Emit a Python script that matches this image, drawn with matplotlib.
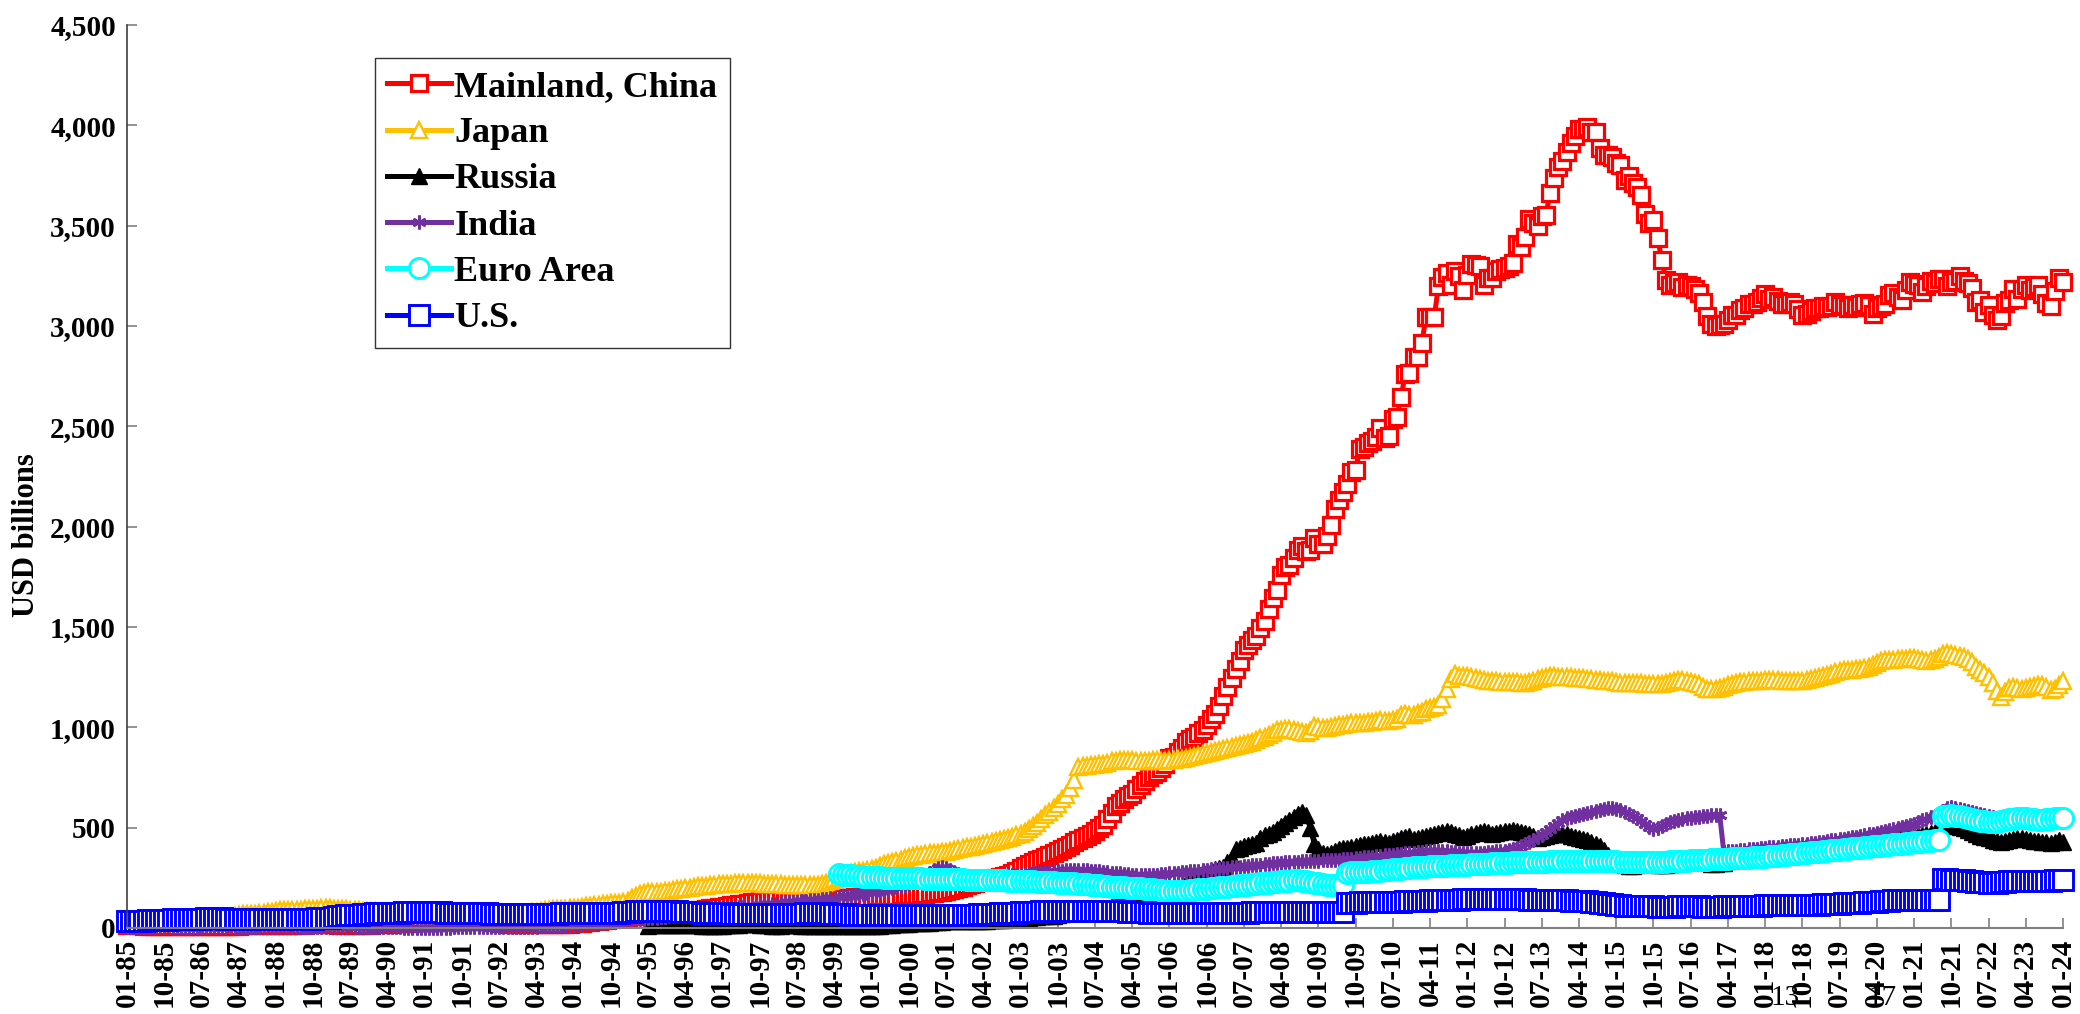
import numpy as np
import matplotlib
matplotlib.use("Agg")
import matplotlib.pyplot as plt
from matplotlib.ticker import FuncFormatter

plt.rcParams["font.family"] = ["Liberation Serif", "DejaVu Serif"]
plt.rcParams["font.weight"] = "bold"

# months counted from 01-85 (index 0) to 01-24 (index 468)
tick_labels = ["01-85", "10-85", "07-86", "04-87", "01-88", "10-88", "07-89", "04-90", "01-91",
               "10-91", "07-92", "04-93", "01-94", "10-94", "07-95", "04-96", "01-97", "10-97",
               "07-98", "04-99", "01-00", "10-00", "07-01", "04-02", "01-03", "10-03", "07-04",
               "04-05", "01-06", "10-06", "07-07", "04-08", "01-09", "10-09", "07-10", "04-11",
               "01-12", "10-12", "07-13", "04-14", "01-15", "10-15", "07-16", "04-17", "01-18",
               "10-18", "07-19", "04-20", "01-21", "10-21", "07-22", "04-23", "01-24"]

# USD billions, one row per year
china = [
    [16, 15, 14, 13, 12, 12, 11, 11, 11, 11, 12, 12],
    [12, 11, 11, 11, 10, 10, 10, 10, 10, 10, 10, 10],
    [11, 11, 12, 12, 13, 13, 14, 14, 14, 15, 15, 15],
    [16, 16, 16, 17, 17, 17, 17, 17, 18, 18, 18, 18],
    [18, 18, 18, 17, 17, 17, 17, 17, 17, 17, 17, 17],
    [18, 19, 20, 21, 22, 23, 24, 25, 26, 27, 28, 29],
    [30, 31, 32, 33, 34, 35, 37, 38, 39, 40, 41, 43],
    [42, 40, 38, 35, 32, 29, 26, 24, 22, 21, 20, 19],
    [19, 19, 19, 20, 20, 20, 20, 20, 20, 21, 21, 21],
    [23, 25, 27, 29, 31, 33, 35, 38, 41, 44, 48, 52],
    [54, 56, 58, 60, 62, 64, 66, 68, 70, 72, 73, 74],
    [76, 78, 80, 82, 84, 86, 88, 92, 96, 99, 102, 105],
    [107, 110, 113, 116, 119, 122, 125, 128, 131, 134, 137, 140],
    [140, 140, 141, 141, 141, 142, 142, 142, 143, 143, 144, 145],
    [146, 147, 147, 148, 149, 150, 151, 151, 152, 153, 154, 155],
    [156, 157, 158, 159, 160, 160, 161, 162, 163, 164, 165, 166],
    [168, 170, 172, 175, 178, 180, 185, 190, 195, 200, 205, 212],
    [220, 225, 230, 235, 240, 245, 250, 255, 260, 266, 275, 286],
    [300, 310, 320, 330, 340, 346, 356, 365, 374, 384, 394, 403],
    [416, 430, 440, 450, 460, 470, 483, 496, 514, 542, 573, 610],
    [623, 642, 659, 670, 691, 711, 733, 753, 769, 779, 795, 819],
    [845, 854, 875, 895, 925, 941, 954, 972, 988, 1010, 1040, 1066],
    [1105, 1158, 1202, 1246, 1293, 1333, 1385, 1409, 1434, 1455, 1497, 1528],
    [1590, 1647, 1682, 1757, 1797, 1809, 1845, 1884, 1906, 1880, 1885, 1946],
    [1913, 1912, 1954, 2009, 2089, 2132, 2175, 2211, 2273, 2283, 2388, 2399],
    [2415, 2425, 2447, 2490, 2440, 2454, 2538, 2548, 2648, 2760, 2768, 2847],
    [2847, 2914, 3045, 3045, 3044, 3197, 3245, 3262, 3202, 3274, 3247, 3181],
    [3254, 3310, 3305, 3300, 3206, 3240, 3240, 3272, 3285, 3287, 3298, 3312],
    [3410, 3395, 3443, 3535, 3515, 3497, 3548, 3553, 3663, 3737, 3790, 3821],
    [3866, 3914, 3948, 3981, 3984, 3993, 3966, 3969, 3888, 3853, 3853, 3843],
    [3813, 3802, 3730, 3748, 3711, 3694, 3651, 3557, 3514, 3526, 3438, 3330],
    [3231, 3202, 3213, 3220, 3192, 3205, 3201, 3185, 3166, 3121, 3052, 3011],
    [2998, 3005, 3009, 3030, 3054, 3057, 3081, 3092, 3109, 3109, 3119, 3140],
    [3161, 3134, 3143, 3125, 3111, 3112, 3118, 3110, 3087, 3053, 3062, 3073],
    [3088, 3090, 3099, 3095, 3101, 3119, 3104, 3107, 3092, 3105, 3096, 3108],
    [3116, 3107, 3061, 3091, 3102, 3112, 3154, 3165, 3143, 3128, 3178, 3217],
    [3211, 3205, 3170, 3198, 3222, 3214, 3236, 3232, 3201, 3218, 3222, 3250],
    [3222, 3214, 3188, 3120, 3128, 3071, 3104, 3055, 3029, 3052, 3117, 3128],
    [3184, 3133, 3184, 3205, 3177, 3193, 3204, 3160, 3115, 3101, 3172, 3238],
    [3219],
]

japan = [
    [24, 24, 24, 25, 25, 25, 25, 25, 25, 25, 26, 26],
    [27, 28, 30, 32, 34, 36, 37, 38, 39, 40, 41, 42],
    [45, 50, 60, 66, 68, 70, 71, 72, 73, 75, 78, 81],
    [85, 88, 90, 91, 91, 92, 92, 93, 93, 94, 96, 98],
    [99, 98, 97, 96, 95, 93, 91, 89, 88, 87, 86, 85],
    [83, 81, 79, 77, 76, 76, 77, 77, 78, 78, 78, 78],
    [77, 76, 75, 74, 73, 73, 72, 72, 72, 72, 72, 72],
    [72, 72, 71, 71, 71, 71, 71, 71, 71, 71, 72, 72],
    [73, 75, 78, 82, 86, 89, 92, 94, 95, 96, 97, 98],
    [100, 102, 105, 108, 111, 114, 117, 119, 121, 123, 124, 126],
    [130, 136, 150, 160, 170, 175, 177, 178, 180, 181, 182, 183],
    [188, 192, 195, 198, 201, 204, 207, 209, 211, 213, 215, 218],
    [219, 220, 221, 222, 223, 224, 225, 225, 224, 222, 221, 221],
    [219, 218, 217, 216, 215, 214, 213, 212, 212, 213, 214, 216],
    [219, 226, 235, 242, 250, 262, 270, 276, 280, 283, 286, 288],
    [293, 300, 310, 318, 325, 330, 335, 340, 348, 352, 357, 362],
    [366, 370, 372, 374, 376, 378, 380, 385, 390, 395, 398, 402],
    [405, 410, 415, 420, 425, 430, 434, 440, 445, 450, 455, 461],
    [470, 480, 495, 510, 525, 545, 565, 580, 600, 620, 645, 663],
    [700, 740, 800, 805, 808, 810, 812, 815, 818, 820, 830, 834],
    [835, 836, 836, 835, 834, 834, 834, 834, 835, 835, 834, 834],
    [835, 838, 840, 842, 845, 850, 855, 860, 865, 870, 875, 880],
    [885, 890, 895, 900, 905, 910, 915, 920, 925, 935, 945, 953],
    [960, 970, 985, 985, 990, 990, 988, 980, 975, 970, 980, 1009],
    [1000, 995, 995, 1000, 1005, 1010, 1010, 1015, 1020, 1020, 1020, 1022],
    [1025, 1025, 1030, 1035, 1030, 1030, 1035, 1040, 1060, 1065, 1060, 1062],
    [1070, 1075, 1090, 1095, 1100, 1110, 1140, 1190, 1240, 1265, 1258, 1258],
    [1255, 1250, 1245, 1240, 1235, 1230, 1230, 1230, 1228, 1228, 1227, 1227],
    [1225, 1220, 1220, 1225, 1230, 1240, 1245, 1250, 1255, 1255, 1250, 1250],
    [1250, 1250, 1248, 1245, 1245, 1240, 1240, 1238, 1235, 1232, 1230, 1230],
    [1225, 1222, 1220, 1220, 1220, 1220, 1220, 1218, 1215, 1215, 1215, 1215],
    [1220, 1225, 1230, 1235, 1235, 1230, 1225, 1220, 1215, 1200, 1190, 1190],
    [1190, 1195, 1200, 1210, 1215, 1220, 1225, 1228, 1230, 1230, 1230, 1232],
    [1235, 1235, 1235, 1235, 1233, 1232, 1232, 1230, 1230, 1232, 1235, 1240],
    [1245, 1250, 1255, 1260, 1265, 1275, 1282, 1285, 1285, 1288, 1290, 1292],
    [1295, 1300, 1310, 1320, 1330, 1335, 1335, 1338, 1340, 1340, 1342, 1346],
    [1345, 1340, 1335, 1330, 1335, 1340, 1350, 1365, 1370, 1365, 1360, 1356],
    [1350, 1340, 1325, 1300, 1285, 1270, 1250, 1220, 1180, 1150, 1175, 1195],
    [1200, 1195, 1190, 1195, 1200, 1205, 1210, 1210, 1200, 1185, 1190, 1210],
    [1230],
]

# Russia starts 07-95
russia_start = 126
russia = [
    [12, 13, 13, 14, 14, 14],
    [15, 16, 16, 15, 14, 14, 13, 12, 12, 11, 11, 11],
    [12, 13, 14, 15, 17, 19, 20, 19, 18, 17, 15, 13],
    [12, 12, 12, 13, 14, 14, 14, 10, 9, 9, 9, 8],
    [8, 8, 8, 8, 8, 8, 8, 8, 8, 8, 8, 9],
    [10, 11, 12, 13, 14, 16, 18, 20, 21, 22, 23, 24],
    [25, 26, 27, 28, 30, 32, 33, 34, 35, 35, 34, 33],
    [33, 33, 34, 35, 37, 39, 40, 41, 42, 43, 44, 44],
    [45, 47, 50, 53, 56, 58, 60, 62, 62, 64, 68, 73],
    [78, 82, 84, 86, 85, 85, 87, 90, 92, 98, 110, 121],
    [126, 130, 132, 136, 140, 145, 148, 152, 158, 162, 168, 176],
    [182, 190, 198, 205, 225, 240, 255, 262, 266, 272, 285, 296],
    [300, 305, 330, 350, 395, 400, 410, 415, 418, 425, 450, 464],
    [470, 480, 495, 510, 525, 540, 555, 570, 580, 565, 500, 420],
    [395, 375, 370, 375, 385, 395, 400, 400, 405, 410, 415, 417],
    [420, 425, 430, 435, 430, 425, 435, 440, 450, 455, 460, 444],
    [450, 455, 460, 465, 470, 475, 480, 485, 480, 470, 465, 455],
    [460, 470, 475, 480, 485, 480, 470, 475, 480, 485, 485, 487],
    [485, 480, 475, 470, 460, 450, 455, 460, 465, 470, 470, 469],
    [466, 460, 455, 450, 445, 440, 430, 420, 410, 390, 365, 340],
    [330, 320, 315, 310, 310, 315, 318, 320, 320, 318, 316, 316],
    [315, 318, 320, 322, 325, 328, 330, 332, 330, 330, 328, 318],
    [318, 322, 325, 332, 338, 345, 350, 352, 355, 357, 360, 358],
    [365, 370, 372, 375, 375, 375, 378, 380, 380, 378, 380, 382],
    [390, 395, 400, 405, 410, 420, 425, 430, 435, 440, 442, 444],
    [450, 452, 445, 440, 445, 450, 455, 460, 460, 455, 460, 458],
    [460, 462, 465, 470, 475, 480, 485, 510, 515, 520, 510, 505],
    [500, 490, 480, 470, 460, 455, 450, 440, 435, 430, 432, 440],
    [445, 450, 448, 445, 440, 435, 432, 430, 428, 425, 430, 440],
    [430],
]

india = [
    [6, 6, 6, 6, 6, 6, 6, 6, 6, 6, 6, 6],
    [6, 6, 6, 6, 6, 6, 6, 6, 6, 6, 5, 5],
    [5, 5, 5, 5, 5, 5, 5, 5, 5, 5, 5, 5],
    [5, 5, 5, 5, 5, 5, 5, 5, 5, 4, 4, 4],
    [4, 4, 4, 4, 4, 4, 4, 3, 3, 3, 3, 3],
    [3, 3, 3, 3, 3, 3, 3, 2, 2, 2, 2, 2],
    [2, 2, 2, 2, 2, 2, 2, 3, 3, 4, 4, 4],
    [4, 4, 5, 5, 5, 5, 5, 6, 6, 6, 6, 6],
    [6, 6, 7, 7, 8, 8, 9, 9, 10, 10, 10, 11],
    [12, 14, 16, 18, 20, 22, 24, 26, 28, 30, 32, 34],
    [36, 38, 40, 42, 44, 46, 48, 50, 52, 54, 56, 58],
    [60, 63, 66, 69, 72, 75, 78, 81, 84, 87, 90, 93],
    [96, 98, 100, 102, 104, 106, 108, 110, 112, 114, 116, 118],
    [120, 122, 124, 126, 128, 130, 132, 134, 136, 138, 140, 142],
    [144, 146, 148, 150, 152, 155, 158, 161, 164, 167, 170, 173],
    [176, 180, 185, 190, 195, 200, 205, 210, 215, 222, 230, 240],
    [250, 262, 275, 288, 298, 304, 300, 290, 280, 270, 262, 256],
    [252, 250, 250, 252, 254, 256, 258, 260, 262, 263, 264, 265],
    [266, 268, 270, 272, 274, 276, 278, 280, 282, 284, 286, 288],
    [289, 290, 290, 289, 288, 286, 284, 282, 280, 278, 276, 274],
    [272, 270, 268, 266, 265, 264, 264, 264, 265, 266, 268, 270],
    [272, 274, 276, 278, 280, 282, 284, 286, 288, 290, 292, 294],
    [296, 298, 300, 302, 304, 306, 308, 310, 312, 314, 316, 318],
    [320, 322, 324, 326, 328, 329, 330, 331, 332, 333, 334, 335],
    [336, 337, 338, 339, 340, 341, 342, 344, 346, 348, 350, 352],
    [354, 356, 358, 360, 362, 364, 366, 368, 370, 372, 374, 376],
    [378, 380, 382, 383, 384, 384, 383, 382, 380, 378, 376, 374],
    [372, 372, 373, 374, 376, 378, 380, 382, 384, 386, 390, 395],
    [400, 410, 420, 430, 440, 452, 465, 480, 495, 510, 525, 540],
    [548, 555, 560, 565, 570, 575, 580, 585, 590, 595, 598, 596],
    [592, 588, 580, 570, 560, 548, 535, 520, 505, 495, 500, 510],
    [520, 528, 535, 540, 545, 548, 550, 552, 555, 558, 560, 562],
    [565, 565, 380, 382, 384, 386, 388, 390, 392, 394, 396, 398],
    [400, 402, 404, 406, 408, 410, 412, 414, 416, 418, 420, 422],
    [425, 428, 431, 434, 437, 440, 443, 446, 449, 452, 455, 458],
    [462, 466, 470, 475, 480, 485, 490, 495, 500, 505, 510, 515],
    [520, 528, 536, 544, 552, 560, 570, 585, 600, 602, 598, 595],
    [590, 585, 580, 575, 570, 565, 560, 555, 550, 548, 550, 552],
    [555, 558, 560, 562, 560, 558, 556, 555, 555, 556, 558, 560],
    [562],
]

# Euro Area starts 05-99
euro_start = 172
euro = [
    [268, 266, 264, 262, 260, 258, 256, 255],
    [254, 253, 252, 251, 250, 250, 249, 249, 248, 248, 247, 247],
    [247, 246, 246, 245, 245, 244, 244, 243, 243, 242, 242, 241],
    [241, 240, 240, 239, 239, 238, 238, 237, 237, 236, 236, 235],
    [235, 234, 233, 232, 231, 230, 229, 228, 227, 226, 225, 224],
    [223, 222, 221, 220, 218, 216, 214, 212, 210, 208, 206, 204],
    [203, 202, 201, 200, 199, 198, 196, 194, 192, 190, 188, 186],
    [185, 184, 184, 185, 186, 188, 190, 192, 194, 196, 198, 200],
    [202, 204, 206, 208, 210, 212, 214, 216, 218, 220, 222, 224],
    [226, 228, 230, 232, 234, 236, 238, 238, 236, 234, 230, 226],
    [222, 219, 216, 214, 212, 212, 213, 276, 277, 278, 279, 280],
    [280, 282, 284, 286, 288, 290, 292, 294, 296, 298, 300, 302],
    [304, 305, 306, 307, 308, 309, 310, 311, 312, 313, 314, 315],
    [316, 317, 318, 319, 320, 321, 322, 323, 324, 325, 326, 327],
    [328, 328, 329, 329, 330, 330, 331, 331, 332, 332, 333, 333],
    [334, 334, 335, 335, 335, 335, 335, 335, 334, 334, 333, 333],
    [332, 331, 330, 329, 329, 328, 328, 328, 329, 329, 330, 330],
    [331, 332, 333, 334, 335, 336, 337, 338, 339, 340, 341, 342],
    [343, 344, 345, 346, 347, 348, 349, 350, 351, 352, 353, 354],
    [355, 357, 359, 361, 363, 365, 367, 369, 371, 373, 375, 377],
    [379, 381, 383, 385, 387, 389, 391, 393, 395, 397, 399, 401],
    [403, 405, 407, 409, 411, 413, 415, 417, 419, 421, 423, 425],
    [427, 429, 431, 433, 435, 437, 439, 558, 560, 561, 560, 558],
    [555, 550, 545, 540, 535, 532, 530, 528, 530, 535, 540, 542],
    [545, 547, 548, 546, 544, 542, 540, 540, 542, 544, 546, 548],
    [550],
]

us = [
    [34, 35, 35, 36, 37, 38, 38, 39, 40, 41, 42, 43],
    [43, 44, 45, 45, 46, 47, 47, 48, 48, 48, 48, 48],
    [47, 46, 45, 44, 44, 44, 43, 43, 44, 45, 45, 45],
    [45, 44, 44, 44, 44, 45, 45, 46, 46, 47, 48, 48],
    [50, 52, 55, 58, 61, 63, 65, 66, 67, 68, 70, 72],
    [73, 74, 74, 75, 76, 76, 77, 78, 79, 80, 81, 82],
    [82, 81, 80, 79, 78, 77, 77, 76, 76, 75, 75, 75],
    [74, 74, 73, 73, 72, 72, 72, 71, 71, 70, 70, 70],
    [70, 70, 71, 71, 71, 72, 72, 72, 72, 73, 73, 73],
    [73, 73, 73, 74, 74, 74, 75, 75, 75, 75, 76, 76],
    [78, 80, 82, 84, 86, 87, 87, 86, 85, 85, 84, 84],
    [84, 83, 82, 81, 80, 79, 78, 77, 76, 76, 75, 75],
    [74, 73, 72, 71, 70, 70, 69, 69, 68, 68, 68, 68],
    [68, 69, 70, 70, 71, 71, 72, 72, 73, 73, 74, 74],
    [74, 73, 72, 71, 70, 69, 68, 67, 67, 66, 66, 66],
    [66, 66, 65, 65, 65, 64, 64, 64, 63, 63, 63, 63],
    [63, 63, 63, 63, 64, 64, 64, 65, 65, 65, 66, 66],
    [66, 67, 68, 69, 70, 71, 72, 73, 74, 75, 76, 77],
    [78, 79, 80, 81, 82, 83, 84, 84, 85, 85, 85, 86],
    [86, 86, 86, 86, 86, 85, 85, 85, 85, 85, 85, 85],
    [84, 83, 82, 81, 80, 79, 78, 77, 76, 75, 74, 73],
    [73, 73, 73, 73, 73, 74, 74, 74, 74, 74, 74, 75],
    [75, 75, 76, 76, 76, 77, 77, 77, 78, 78, 78, 79],
    [79, 79, 80, 80, 80, 80, 81, 81, 81, 81, 82, 82],
    [80, 79, 79, 80, 80, 81, 81, 126, 127, 127, 128, 128],
    [129, 129, 130, 130, 130, 130, 131, 131, 132, 133, 133, 134],
    [135, 136, 137, 138, 139, 140, 140, 141, 141, 142, 142, 143],
    [143, 143, 144, 144, 144, 145, 145, 145, 145, 146, 146, 146],
    [145, 144, 143, 142, 142, 141, 141, 140, 140, 139, 139, 138],
    [138, 137, 136, 136, 135, 133, 131, 129, 126, 123, 120, 118],
    [116, 114, 112, 111, 110, 110, 109, 109, 108, 108, 107, 107],
    [107, 107, 107, 108, 108, 108, 108, 108, 108, 107, 107, 107],
    [107, 107, 108, 108, 109, 109, 110, 110, 111, 111, 112, 112],
    [113, 113, 113, 113, 113, 114, 114, 114, 115, 115, 115, 116],
    [116, 117, 118, 119, 120, 121, 122, 123, 124, 125, 126, 127],
    [128, 128, 129, 131, 133, 135, 137, 138, 139, 140, 141, 141],
    [140, 139, 138, 138, 139, 139, 139, 242, 242, 241, 240, 239],
    [238, 236, 234, 231, 229, 227, 225, 224, 226, 228, 230, 232],
    [233, 234, 234, 235, 235, 236, 236, 236, 236, 236, 237, 237],
    [238],
]


def flat(rows):
    return np.array([v for row in rows for v in row], dtype=float)


series = [
    ("Mainland, China", flat(china), 0, dict(color="#FF0000", marker="s", ms=11.5, mew=2.3, mfc="white")),
    ("Japan", flat(japan), 0, dict(color="#FFC000", marker="^", ms=11.5, mew=1.7, mfc="white")),
    ("Russia", flat(russia), russia_start, dict(color="black", marker="^", ms=11, mew=1.0, mfc="black")),
    ("India", flat(india), 0, dict(color="#7030A0", marker=(6, 2, 0), ms=10, mew=1.9)),
    ("Euro Area", flat(euro), euro_start, dict(color="#00FFFF", marker="o", ms=14.5, mew=2.1, mfc="white")),
    ("U.S.", flat(us), 0, dict(color="#0000FF", marker="s", ms=14.5, mew=2.1, mfc="white")),
]

fig = plt.figure(figsize=(20.8, 10.14), dpi=100)
ax = fig.add_axes([127 / 2080, 1 - 928 / 1014, (2063 - 127) / 2080, (928 - 25) / 1014])

for name, vals, start, style in series:
    x = np.arange(start, start + len(vals))
    ax.plot(x, vals, lw=3.6, label=name, clip_on=False, **style)

ax.set_xlim(0, 468)
ax.set_ylim(0, 4500)
ax.set_yticks(np.arange(0, 4501, 500))
ax.yaxis.set_major_formatter(FuncFormatter(lambda v, p: f"{int(v):,}"))
ax.set_xticks(np.arange(0, 469, 9))
ax.set_xticklabels(tick_labels, rotation=90)

for s in ["top", "right"]:
    ax.spines[s].set_visible(False)
ax.spines["left"].set_color("#404040")
ax.spines["bottom"].set_color("#808080")
ax.spines["left"].set_linewidth(1.2)
ax.spines["bottom"].set_linewidth(1.5)
ax.tick_params(axis="both", direction="in", length=7, width=1.2, color="#808080", labelsize=21)
ax.tick_params(axis="x", pad=8)
ax.tick_params(axis="y", pad=8)

fig.text(27 / 2080, 1 - 535 / 1014, "USD billions", rotation=90, ha="center", va="center",
         fontsize=22, fontweight="bold")

leg = ax.legend(loc="upper left", bbox_to_anchor=(0.128, 0.9635), fontsize=26, frameon=True,
                fancybox=False, edgecolor="black", numpoints=1, handlelength=1.75,
                handletextpad=0.1, labelspacing=0.36, borderpad=0.35, borderaxespad=0)
leg.get_frame().set_linewidth(1.0)

# stray page numbers overlapping the axis labels
fig.text(1785 / 2080, 1 - 998 / 1014, "13", ha="center", va="center", fontsize=21, fontweight="normal")
fig.text(1882 / 2080, 1 - 998 / 1014, "17", ha="center", va="center", fontsize=21, fontweight="normal")

fig.savefig("out.png", dpi=100)
